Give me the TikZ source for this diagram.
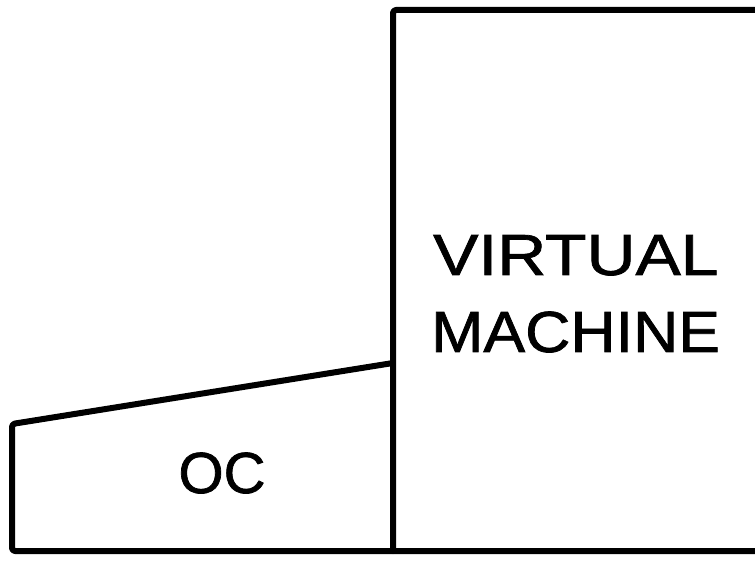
\documentclass[tikz,border=0pt]{standalone}
\usepackage{fontspec}
\setmainfont{Liberation Sans}
\newfontfamily\labelfont[FakeBold=1.2]{Liberation Sans}
\begin{document}
\begin{tikzpicture}[x=1pt,y=-1pt,
  frame/.style={line width=6pt,line join=round,line cap=round,rounded corners=3pt},
  bigtext/.style={font=\labelfont\fontsize{58}{60}\selectfont,inner sep=0pt}]
\useasboundingbox[fill=white] (0,0) rectangle (755,561);
% coordinates
\coordinate (vmtop) at (393,10);
\coordinate (vmright) at (760,10);
\coordinate (vmbot) at (393,551);
\coordinate (ocjoin) at (393,363);
\coordinate (octl) at (12,424);
\coordinate (ocbl) at (12,551);
\coordinate (baseright) at (760,551);
% virtual machine box
\draw[frame] (vmbot) -- (vmtop) -- (vmright);
% OC trapezoid
\draw[frame] (ocjoin) -- (octl) -- (ocbl) -- (baseright);
% labels
\node[bigtext,anchor=base west] (virtual) at (433,275) {\scalebox{1.17}[1]{VIRTUAL}};
\node[bigtext,anchor=base west] (machine) at (431,352) {\scalebox{1.08}[1]{MACHINE}};
\node[bigtext,anchor=base] (oc) at (222,493) {OC};
\end{tikzpicture}
\end{document}
